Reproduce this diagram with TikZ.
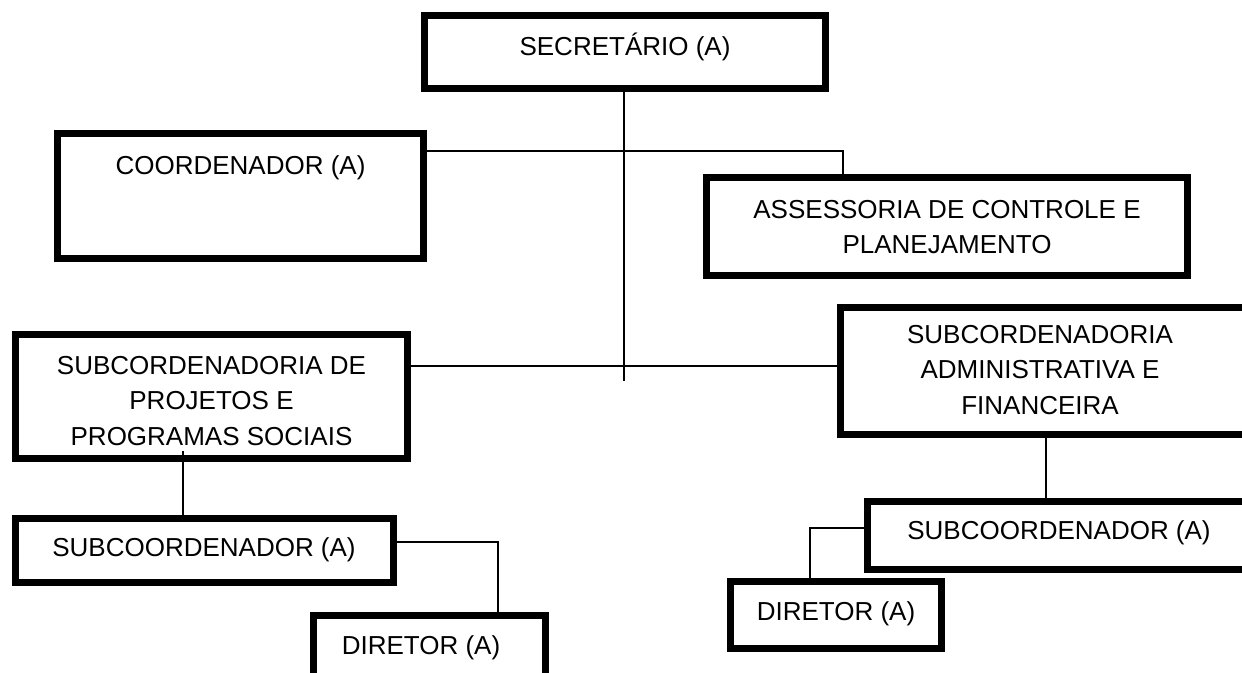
\documentclass[tikz,border=0pt]{standalone}
\usepackage{fontspec}
\setmainfont{Liberation Sans}
\begin{document}
\begin{tikzpicture}[x=0.75pt,y=-0.75pt,
  bx/.style 2 args={draw=black,line width=4.9pt,fill=white,inner sep=0pt,
    minimum width=#1*0.75pt,minimum height=#2*0.75pt},
  lbl/.style={align=center,inner sep=0pt,font=\fontsize{19.5}{26.5}\selectfont},
  conn/.style={draw=black,line width=1.4pt}]
\useasboundingbox (0,0) rectangle (1242,672);
% connectors first (boxes drawn on top)
\coordinate (j1) at (843,151);
\coordinate (j2) at (498,542);
\coordinate (j3) at (810,528);
\coordinate (tr) at (624,381);
% boxes
\node[bx={401.5}{73.5}] (sec) at (625,52) {};
\node[bx={366.5}{125.5}] (coord) at (240.5,196) {};
\node[bx={481.5}{98.5}] (ass) at (947,226.5) {};
\node[bx={392.5}{124.5}] (sproj) at (211.5,396.5) {};
\node[bx={406.5}{127.5}] (sadm) at (1043.5,371) {};
\node[bx={378.5}{64.5}] (subl) at (204.5,550.5) {};
\node[bx={232.5}{61.5}] (dirl) at (429.5,646) {};
\node[bx={385.5}{68.5}] (subr) at (1060,535.5) {};
\node[bx={211.5}{67.5}] (dirr) at (836,615) {};
% connectors
\draw[conn] (sec.south -| tr) -- (tr);
\draw[conn] (coord.east |- j1) -- (j1) -- (ass.north -| j1);
\draw[conn] (sproj.east |- 0,366) -- (sadm.west |- 0,366);
\draw[conn] (183,451) -- (subl.north -| 183,0);
\draw[conn] (subl.east |- j2) -- (j2) -- (dirl.north -| j2);
\draw[conn] (sadm.south -| 1046,0) -- (subr.north -| 1046,0);
\draw[conn] (subr.west |- j3) -- (j3) -- (dirr.north -| j3);
% labels
\node[lbl] (sec-t) at (625,47) {SECRETÁRIO (A)};
\node[lbl] (coord-t) at (240.5,168) {COORDENADOR (A)};
\node[lbl] (ass-t) at (947,227) {ASSESSORIA DE CONTROLE E\\PLANEJAMENTO};
\node[lbl] (sproj-t) at (211.5,401) {SUBCORDENADORIA DE\\PROJETOS E\\PROGRAMAS SOCIAIS};
\node[lbl] (sadm-t) at (1040,370) {SUBCORDENADORIA\\ADMINISTRATIVA E\\FINANCEIRA};
\node[lbl] (subl-t) at (204,550) {SUBCOORDENADOR (A)};
\node[lbl] (dirl-t) at (421,648) {DIRETOR (A)};
\node[lbl] (subr-t) at (1059,533) {SUBCOORDENADOR (A)};
\node[lbl] (dirr-t) at (836,614) {DIRETOR (A)};
\end{tikzpicture}
\end{document}
